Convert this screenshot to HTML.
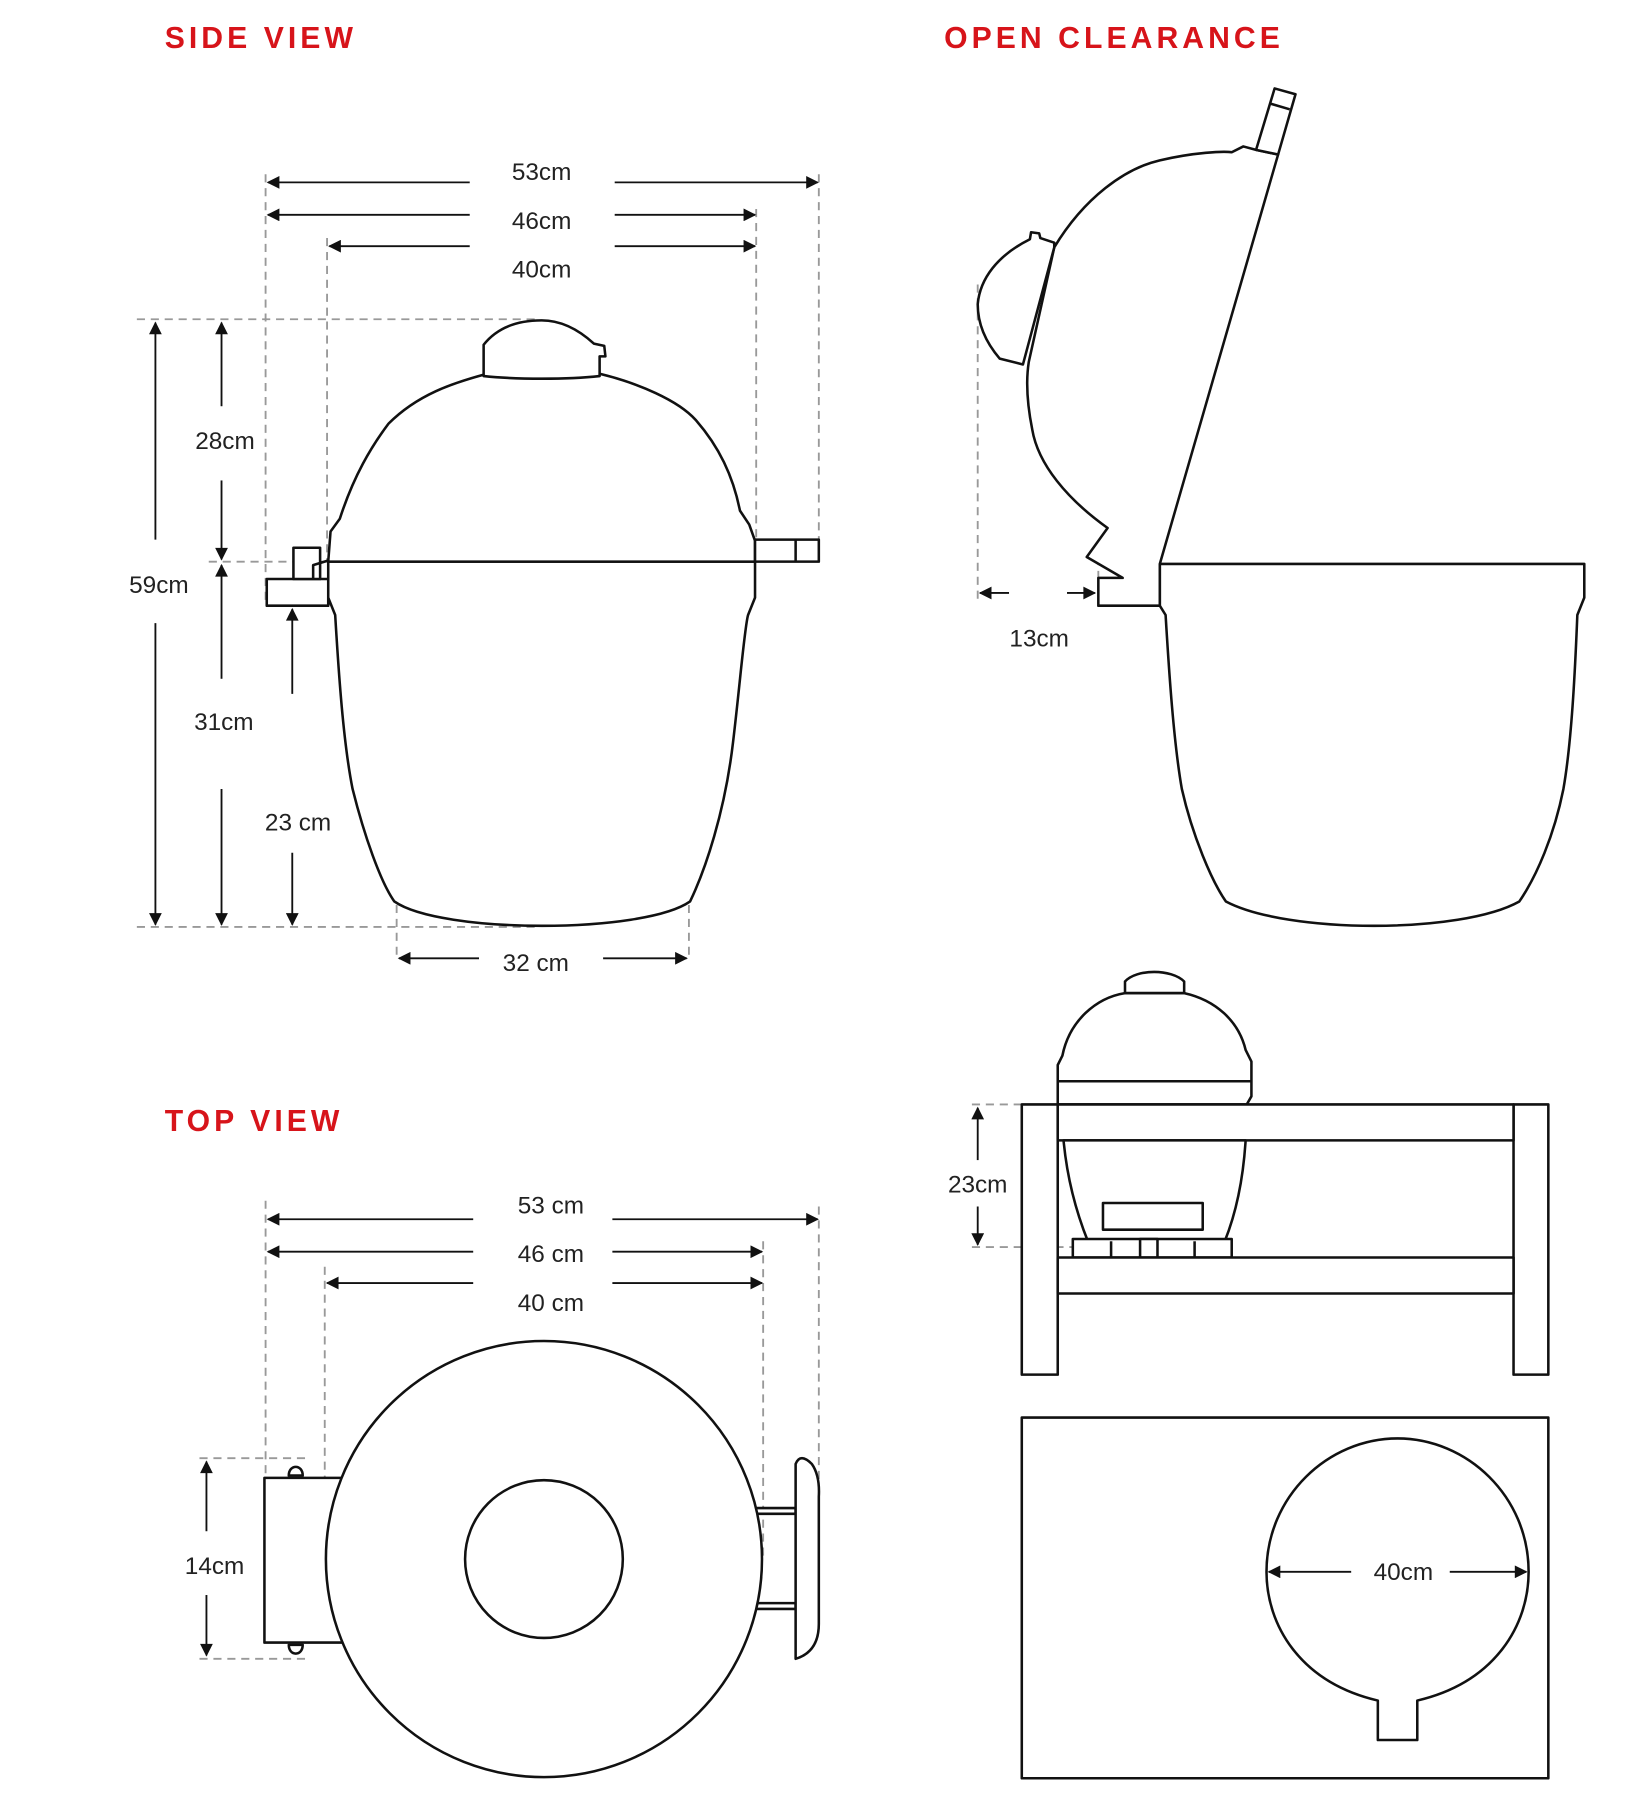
<!DOCTYPE html>
<html><head><meta charset="utf-8"><style>
html,body{margin:0;padding:0;background:#fff;}
svg{display:block;}
.t{font-family:"Liberation Sans",sans-serif;font-size:21px;fill:#222;text-anchor:middle;}
.h{font-family:"Liberation Sans",sans-serif;font-size:26px;font-weight:bold;fill:#d7141a;letter-spacing:3.5px;}
.o{fill:none;stroke:#111;stroke-width:2.2;stroke-linejoin:round;}
.w{fill:#fff;stroke:#111;stroke-width:2.2;stroke-linejoin:round;}
.d{fill:none;stroke:#999;stroke-width:1.6;stroke-dasharray:7 5;}
.a{fill:none;stroke:#111;stroke-width:1.6;}
</style></head><body>
<svg width="1633" height="1818" viewBox="0 0 1408 1567" xmlns="http://www.w3.org/2000/svg">
<defs>
<marker id="m" viewBox="0 0 10 10" refX="9" refY="5" markerWidth="13" markerHeight="11" markerUnits="userSpaceOnUse" orient="auto-start-reverse"><path d="M0,0 L10,5 L0,10 Z" fill="#111"/></marker>
</defs>

<text class="h" x="142" y="41">SIDE VIEW</text>
<text class="h" x="814" y="41">OPEN CLEARANCE</text>
<text class="h" x="142" y="975">TOP VIEW</text>

<g>
<line class="d" x1="229" y1="150" x2="229" y2="520"/>
<line class="d" x1="282" y1="205" x2="282" y2="483"/>
<line class="d" x1="652" y1="180" x2="652" y2="465"/>
<line class="d" x1="706" y1="150" x2="706" y2="465"/>
<line class="d" x1="118" y1="275" x2="465" y2="275"/>
<line class="d" x1="180" y1="484" x2="283" y2="484"/>
<line class="d" x1="118" y1="799" x2="465" y2="799"/>
<line class="d" x1="342" y1="780" x2="342" y2="828"/>
<line class="d" x1="594" y1="780" x2="594" y2="828"/>

<line class="a" x1="405" y1="157" x2="231" y2="157" marker-end="url(#m)"/>
<line class="a" x1="530" y1="157" x2="705" y2="157" marker-end="url(#m)"/>
<line class="a" x1="405" y1="185" x2="231" y2="185" marker-end="url(#m)"/>
<line class="a" x1="530" y1="185" x2="651" y2="185" marker-end="url(#m)"/>
<line class="a" x1="405" y1="212" x2="284" y2="212" marker-end="url(#m)"/>
<line class="a" x1="530" y1="212" x2="651" y2="212" marker-end="url(#m)"/>
<text class="t" x="467" y="155">53cm</text>
<text class="t" x="467" y="197">46cm</text>
<text class="t" x="467" y="239">40cm</text>

<line class="a" x1="134" y1="465" x2="134" y2="278" marker-end="url(#m)"/>
<line class="a" x1="134" y1="537" x2="134" y2="797" marker-end="url(#m)"/>
<text class="t" x="137" y="511">59cm</text>
<line class="a" x1="191" y1="350" x2="191" y2="278" marker-end="url(#m)"/>
<line class="a" x1="191" y1="414" x2="191" y2="482" marker-end="url(#m)"/>
<text class="t" x="194" y="387">28cm</text>
<line class="a" x1="191" y1="585" x2="191" y2="487" marker-end="url(#m)"/>
<line class="a" x1="191" y1="680" x2="191" y2="797" marker-end="url(#m)"/>
<text class="t" x="193" y="629">31cm</text>
<line class="a" x1="252" y1="598" x2="252" y2="525" marker-end="url(#m)"/>
<line class="a" x1="252" y1="735" x2="252" y2="797" marker-end="url(#m)"/>
<text class="t" x="257" y="716">23 cm</text>
<line class="a" x1="413" y1="826" x2="344" y2="826" marker-end="url(#m)"/>
<line class="a" x1="520" y1="826" x2="592" y2="826" marker-end="url(#m)"/>
<text class="t" x="462" y="837">32 cm</text>

<path class="w" d="M283,484 L283,515 L289,530 C292,580 296,640 304,680 C314,720 328,760 340,777 C380,805 555,805 595,777 C608,750 625,700 632,640 C638,590 642,540 645,530 L651,515 L651,484 Z"/>
<path class="w" d="M283,484 L285,458 L293,447 C305,410 320,385 335,365 C360,340 390,330 420,322 L517,322 C550,330 585,345 600,362 C620,385 632,410 638,440 L646,452 L651,466 L651,484 Z"/>
<path class="w" d="M417,324 L417,297 C432,278 455,276 467,276 C485,276 500,285 512,296 L521,298 L522,307 L517,307 L517,324 C490,327 445,327 417,324 Z"/>
<rect class="w" x="230" y="499" width="53" height="23"/>
<rect class="w" x="253" y="472" width="23" height="27"/>
<path class="o" d="M270,499 L270,487 L283,483"/>
<rect class="w" x="651" y="465" width="55" height="19"/>
<line class="o" x1="686" y1="465" x2="686" y2="484"/>
</g>

<g>
<line class="d" x1="843" y1="245" x2="843" y2="520"/>
<line class="d" x1="947" y1="480" x2="947" y2="520"/>
<line class="a" x1="870" y1="511" x2="845" y2="511" marker-end="url(#m)"/>
<line class="a" x1="920" y1="511" x2="944" y2="511" marker-end="url(#m)"/>
<text class="t" x="896" y="557">13cm</text>

<path class="w" d="M1000,486 L1366,486 L1366,515 L1360,530 C1358,580 1355,640 1348,680 C1340,720 1325,755 1310,777 C1260,805 1110,805 1057,777 C1045,760 1028,720 1019,680 C1012,640 1008,580 1005,530 L1000,522 Z"/>
<path class="w" d="M947,498 L968,498 L937,480 L955,455 C920,430 895,400 890,370 C885,345 885,325 887,312 L909,213 C935,170 970,145 1000,138 C1030,131 1055,130 1062,131 L1072,126 L1083,129 L1102,133 L1000,486 L1000,522 L947,522 Z"/>
<path class="w" d="M909,213 L882,314 L862,309 C850,295 843,280 843,262 C845,240 860,220 888,206 L889,200 L896,201 L897,205 L909,209 Z"/>
<path class="w" d="M1083,129 L1099,76 L1117,81 L1102,133 Z"/>
<line class="o" x1="1095" y1="89" x2="1112" y2="94"/>
</g>

<g>
<line class="d" x1="838" y1="952" x2="912" y2="952"/>
<line class="d" x1="838" y1="1075" x2="925" y2="1075"/>
<line class="a" x1="843" y1="1000" x2="843" y2="955" marker-end="url(#m)"/>
<line class="a" x1="843" y1="1040" x2="843" y2="1073" marker-end="url(#m)"/>
<text class="t" x="843" y="1028">23cm</text>

<path class="w" d="M912,952 L912,918 L916,910 C922,880 945,860 970,856 L1021,856 C1048,862 1068,880 1074,905 L1079,915 L1079,945 L1075,952 Z"/>
<line class="o" x1="912" y1="932" x2="1079" y2="932"/>
<path class="w" d="M970,856 L970,846 C980,835 1010,835 1021,846 L1021,856 Z"/>
<rect class="w" x="881" y="952" width="31" height="233"/>
<rect class="w" x="1305" y="952" width="30" height="233"/>
<rect class="w" x="912" y="952" width="393" height="31"/>
<path class="w" d="M917,983 C920,1015 928,1045 938,1070 L1056,1070 C1066,1045 1072,1015 1074,983 Z"/>
<rect class="w" x="951" y="1037" width="86" height="23"/>
<rect class="w" x="925" y="1068" width="137" height="16"/>
<line class="o" x1="958" y1="1070" x2="958" y2="1084"/>
<rect class="w" x="983" y="1068" width="15" height="16"/>
<line class="o" x1="1030" y1="1070" x2="1030" y2="1084"/>
<rect class="w" x="912" y="1084" width="393" height="31"/>

<rect class="w" x="881" y="1222" width="454" height="311"/>
<path class="w" d="M1188,1466 C1120,1450 1092,1400 1092,1355 C1092,1290 1145,1240 1205,1240 C1265,1240 1318,1290 1318,1355 C1318,1400 1290,1450 1222,1466 L1222,1500 L1188,1500 Z"/>
<line class="a" x1="1165" y1="1355" x2="1094" y2="1355" marker-end="url(#m)"/>
<line class="a" x1="1250" y1="1355" x2="1316" y2="1355" marker-end="url(#m)"/>
<text class="t" x="1210" y="1362">40cm</text>
</g>

<g>
<line class="d" x1="229" y1="1035" x2="229" y2="1275"/>
<line class="d" x1="280" y1="1092" x2="280" y2="1350"/>
<line class="d" x1="658" y1="1070" x2="658" y2="1345"/>
<line class="d" x1="706" y1="1040" x2="706" y2="1290"/>
<line class="d" x1="172" y1="1257" x2="265" y2="1257"/>
<line class="d" x1="172" y1="1430" x2="265" y2="1430"/>

<line class="a" x1="408" y1="1051" x2="231" y2="1051" marker-end="url(#m)"/>
<line class="a" x1="528" y1="1051" x2="705" y2="1051" marker-end="url(#m)"/>
<line class="a" x1="408" y1="1079" x2="231" y2="1079" marker-end="url(#m)"/>
<line class="a" x1="528" y1="1079" x2="657" y2="1079" marker-end="url(#m)"/>
<line class="a" x1="408" y1="1106" x2="282" y2="1106" marker-end="url(#m)"/>
<line class="a" x1="528" y1="1106" x2="657" y2="1106" marker-end="url(#m)"/>
<text class="t" x="475" y="1046">53 cm</text>
<text class="t" x="475" y="1088">46 cm</text>
<text class="t" x="475" y="1130">40 cm</text>

<line class="a" x1="178" y1="1320" x2="178" y2="1260" marker-end="url(#m)"/>
<line class="a" x1="178" y1="1375" x2="178" y2="1427" marker-end="url(#m)"/>
<text class="t" x="185" y="1357">14cm</text>

<path class="w" d="M249,1272 C249,1262 261,1262 261,1272 Z"/>
<path class="w" d="M249,1418 C249,1428 261,1428 261,1418 Z"/>
<rect class="w" x="228" y="1274" width="70" height="142"/>
<rect class="w" x="640" y="1300" width="46" height="5"/>
<rect class="w" x="640" y="1382" width="46" height="5"/>
<circle class="w" cx="469" cy="1344" r="188"/>
<circle class="w" cx="469" cy="1344" r="68"/>
<path class="w" d="M686,1262 Q690,1252 700,1262 Q707,1272 706,1290 L706,1400 Q706,1424 686,1430 Z"/>
</g>
</svg>
</body></html>
